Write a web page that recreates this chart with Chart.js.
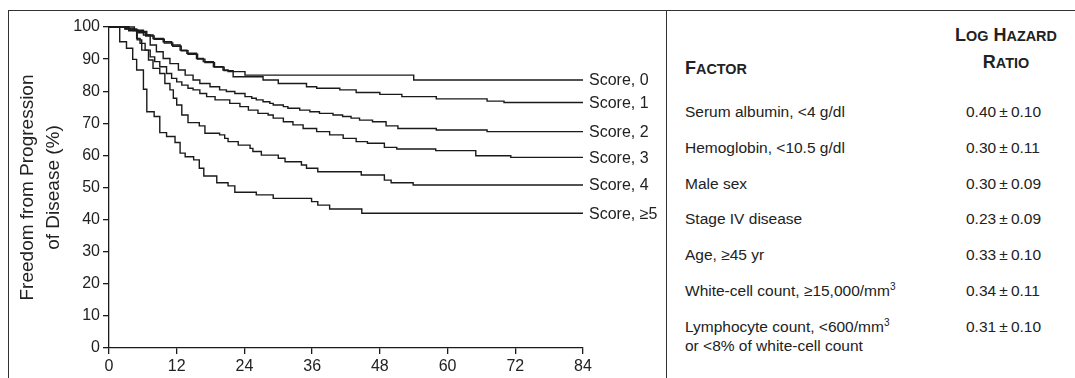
<!DOCTYPE html>
<html>
<head>
<meta charset="utf-8">
<script src="https://cdn.jsdelivr.net/npm/chart.js@4.4.1/dist/chart.umd.min.js"></script>
<style>
  html, body { margin:0; padding:0; background:#fff; }
  body { width:1075px; height:378px; position:relative; overflow:hidden;
         font-family:"Liberation Sans", Arial, Helvetica, sans-serif; color:#222; }
  .hline { position:absolute; left:8px; top:10px; width:1067px; height:0; border-top:1.5px solid #333; }
  .vline { position:absolute; top:10px; height:368px; width:0; border-left:1.5px solid #333; }
  #wrap { position:absolute; left:9px; top:11px; width:657px; height:367px; }
  .hd { position:absolute; font-weight:bold; font-size:18px; line-height:26px; color:#222; }
  .hd small { font-size:0.8em; }
  #hFactor { left:685px; top:55px; }
  #hRatio { left:945px; top:22px; width:122px; text-align:center; }
  #rows { position:absolute; left:685px; top:102px; width:380px; }
  .row { position:relative; height:35.8px; font-size:15.5px; line-height:19px; }
  .row .val { position:absolute; left:281px; top:0; white-space:nowrap; }
  .row sup { font-size:0.65em; line-height:0; vertical-align:0.55em; }
</style>
</head>
<body>
<div class="hline"></div>
<div class="vline" style="left:8px"></div>
<div class="vline" style="left:666px"></div>
<div id="wrap"><canvas id="km"></canvas></div>

<div class="hd" id="hFactor">F<small>ACTOR</small></div>
<div class="hd" id="hRatio">L<small>OG</small> H<small>AZARD</small><br>R<small>ATIO</small></div>
<div id="rows"></div>

<script>
'use strict';

/* ── DATA ────────────────────────────────────────────────── */
// [month, % free from progression] at each step
const SCORE_0 = [[0,100],[3,99.4],[4.9,98.6],[6.7,97.5],[7.8,96.4],[9.6,95.4],[11.1,94.4],[12.6,92.8],
  [13.8,91.8],[15.5,90.2],[16.7,89.2],[18.5,87.6],[20.2,86.6],[21.1,86.1],[24.1,85.0],[54,83.5],[84,83.5]];
const SCORE_1 = [[0,100],[3.5,99.0],[5.2,98.2],[6.5,97.2],[8,96.2],[9.8,95.0],[11.3,94.0],[12.8,92.6],
  [14,91.5],[15.7,90.0],[17,88.9],[18.7,87.5],[20.4,86.4],[22,84.5],[27.3,83.5],[30,82.4],[35,81.4],
  [36.8,80.9],[40.9,80.4],[43.8,79.6],[48,79.0],[51.9,78.3],[58,77.6],[67,76.9],[70,76.5],[84,76.5]];
const SCORE_2 = [[0,100],[4.5,99.0],[6.1,97.5],[7.3,94.4],[8.4,92.3],[9.6,90.2],[10.8,88.6],[12.3,86.6],
  [13.5,85.0],[14.9,83.5],[16.1,82.4],[17.9,81.4],[19.6,80.4],[20.8,79.9],[22.3,79.3],[24.1,78.3],
  [25.3,77.8],[26.1,77.3],[27.3,76.7],[28.5,76.2],[29.1,75.7],[30.9,75.2],[31.7,74.7],[33.8,74.1],
  [35.6,73.6],[37.3,73.1],[39.7,72.6],[41.4,72.1],[42.9,71.6],[44.4,71.0],[46.7,70.5],[49.1,69.2],
  [51.2,68.4],[58,67.9],[67,67.4],[84,67.4]];
const SCORE_3 = [[0,100],[3.5,98.8],[4.9,96.4],[5.5,94.9],[6.4,92.8],[7.3,90.7],[8.1,89.2],[9.0,87.6],
  [10.2,85.5],[11.1,84.0],[12,82.9],[12.9,81.9],[14,80.9],[14.9,80.4],[16.1,79.3],[17.3,78.3],[18.8,77.3],
  [21.4,76.2],[23.2,75.2],[24.7,74.1],[26.4,73.1],[28.2,72.6],[29.1,71.6],[30.9,70.5],[32.6,69.5],
  [34.4,68.4],[36.8,67.4],[39.1,66.4],[41.5,65.3],[43.8,64.3],[45.8,63.8],[48.8,62.5],[51,62.0],
  [57.9,61.5],[65,59.9],[71.2,59.4],[84,59.4]];
const SCORE_4 = [[0,100],[2.8,99.4],[4.3,98.9],[5.0,96.0],[5.8,92.8],[7.0,89.7],[7.8,87.1],[9.0,85.5],
  [9.9,82.4],[10.8,80.4],[11.4,77.8],[12.0,75.7],[12.9,72.6],[14,70.2],[16,69.2],[17,66.9],[19.6,66.4],
  [20.5,65.3],[21.1,64.3],[22.9,63.2],[25,62.2],[25.5,61.2],[27,60.1],[30,59.1],[31.2,58.0],[34.1,57.0],
  [35,56.0],[37,54.9],[44.7,53.9],[48.8,52.3],[50,51.5],[53.9,50.8],[84,50.8]];
const SCORE_5 = [[0,100],[1.9,95.4],[3.1,93.4],[4.2,89.9],[4.9,86.6],[6.1,80.6],[6.7,73.6],[8.0,72.1],
  [9.0,67.1],[10.2,65.9],[11.7,64.0],[12.6,60.7],[13.5,59.6],[15.0,58.6],[16.0,56.0],[16.8,53.6],
  [19.1,51.5],[21.1,50.5],[22.3,48.5],[26.1,47.7],[29.1,46.6],[35.9,45.6],[37.0,44.5],[39.1,43.3],
  [44.8,42.0],[84,42.0]];

const SERIES = [SCORE_0, SCORE_1, SCORE_2, SCORE_3, SCORE_4, SCORE_5];
const SERIES_LABELS = ['Score, 0','Score, 1','Score, 2','Score, 3','Score, 4','Score, \u22655'];

const Y_TITLE = ['Freedom from Progression','of Disease (%)'];

const FACTORS = [
  'Serum albumin, <4 g/dl',
  'Hemoglobin, <10.5 g/dl',
  'Male sex',
  'Stage IV disease',
  'Age, \u226545 yr',
  'White-cell count, \u226515,000/mm<sup>3</sup>',
  'Lymphocyte count, <600/mm<sup>3</sup><br>or <8% of white-cell count',
];
const RATIOS = ['0.40','0.30','0.30','0.23','0.33','0.34','0.31'];
const RATIO_SE = ['0.10','0.11','0.09','0.09','0.10','0.11','0.10'];

/* ── TABLE ───────────────────────────────────────────────── */
const esc = s => s.replace(/<(?!\/?(sup|br)>)/g,'&lt;');
document.getElementById('rows').innerHTML = FACTORS.map((f,i)=>`
  <div class="row"><span>${esc(f)}</span><span class="val">${RATIOS[i]}\u2009\u00b1\u2009${RATIO_SE[i]}</span></div>
`).join('');

/* ── CHART ───────────────────────────────────────────────── */
const FONT = '"Liberation Sans", Arial, Helvetica, sans-serif';
const INK = '#1a1a1a';

const endLabels = {
  id:'endLabels',
  afterDatasetsDraw(chart) {
    const {ctx} = chart;
    ctx.save();
    ctx.font = '16px ' + FONT;
    ctx.fillStyle = '#222';
    ctx.textBaseline = 'middle';
    chart.data.datasets.forEach((ds,i)=>{
      const pts = chart.getDatasetMeta(i).data;
      const p = pts[pts.length-1];
      ctx.fillText(ds.label, p.x + 6, p.y + 1);
    });
    ctx.restore();
  }
};

new Chart(document.getElementById('km'), {
  type:'line',
  data:{
    datasets: SERIES.map((s,i)=>({
      label: SERIES_LABELS[i],
      data: s.map(([x,y])=>({x,y})),
      stepped: 'before',
      borderColor: INK, borderWidth: 1.4,
      pointRadius: 0, fill: false, clip: false,
    }))
  },
  options:{
    responsive:true, maintainAspectRatio:false, animation:false,
    layout:{ padding:{ top:16, right:83, bottom:0, left:0 } },
    plugins:{ legend:{display:false}, tooltip:{enabled:false} },
    scales:{
      x:{
        type:'linear', min:0, max:84,
        ticks:{ stepSize:12, color:'#222', font:{family:FONT, size:16}, padding:3, maxRotation:0 },
        grid:{ drawOnChartArea:false, tickLength:6, color:INK, lineWidth:1.3 },
        border:{ color:INK, width:1.3 },
        afterFit: s => { s.height = 30; }
      },
      y:{
        min:0, max:100,
        ticks:{ stepSize:10, color:'#222', font:{family:FONT, size:16}, padding:3 },
        grid:{ drawOnChartArea:false, tickLength:6, color:INK, lineWidth:1.3 },
        border:{ color:INK, width:1.3 },
        title:{ display:true, text:Y_TITLE, color:'#222',
                font:{family:FONT, size:19, lineHeight:1.37}, padding:{top:6, bottom:0} },
        afterFit: s => { s.width = 100; }
      }
    }
  },
  plugins:[endLabels]
});
</script>
</body>
</html>
